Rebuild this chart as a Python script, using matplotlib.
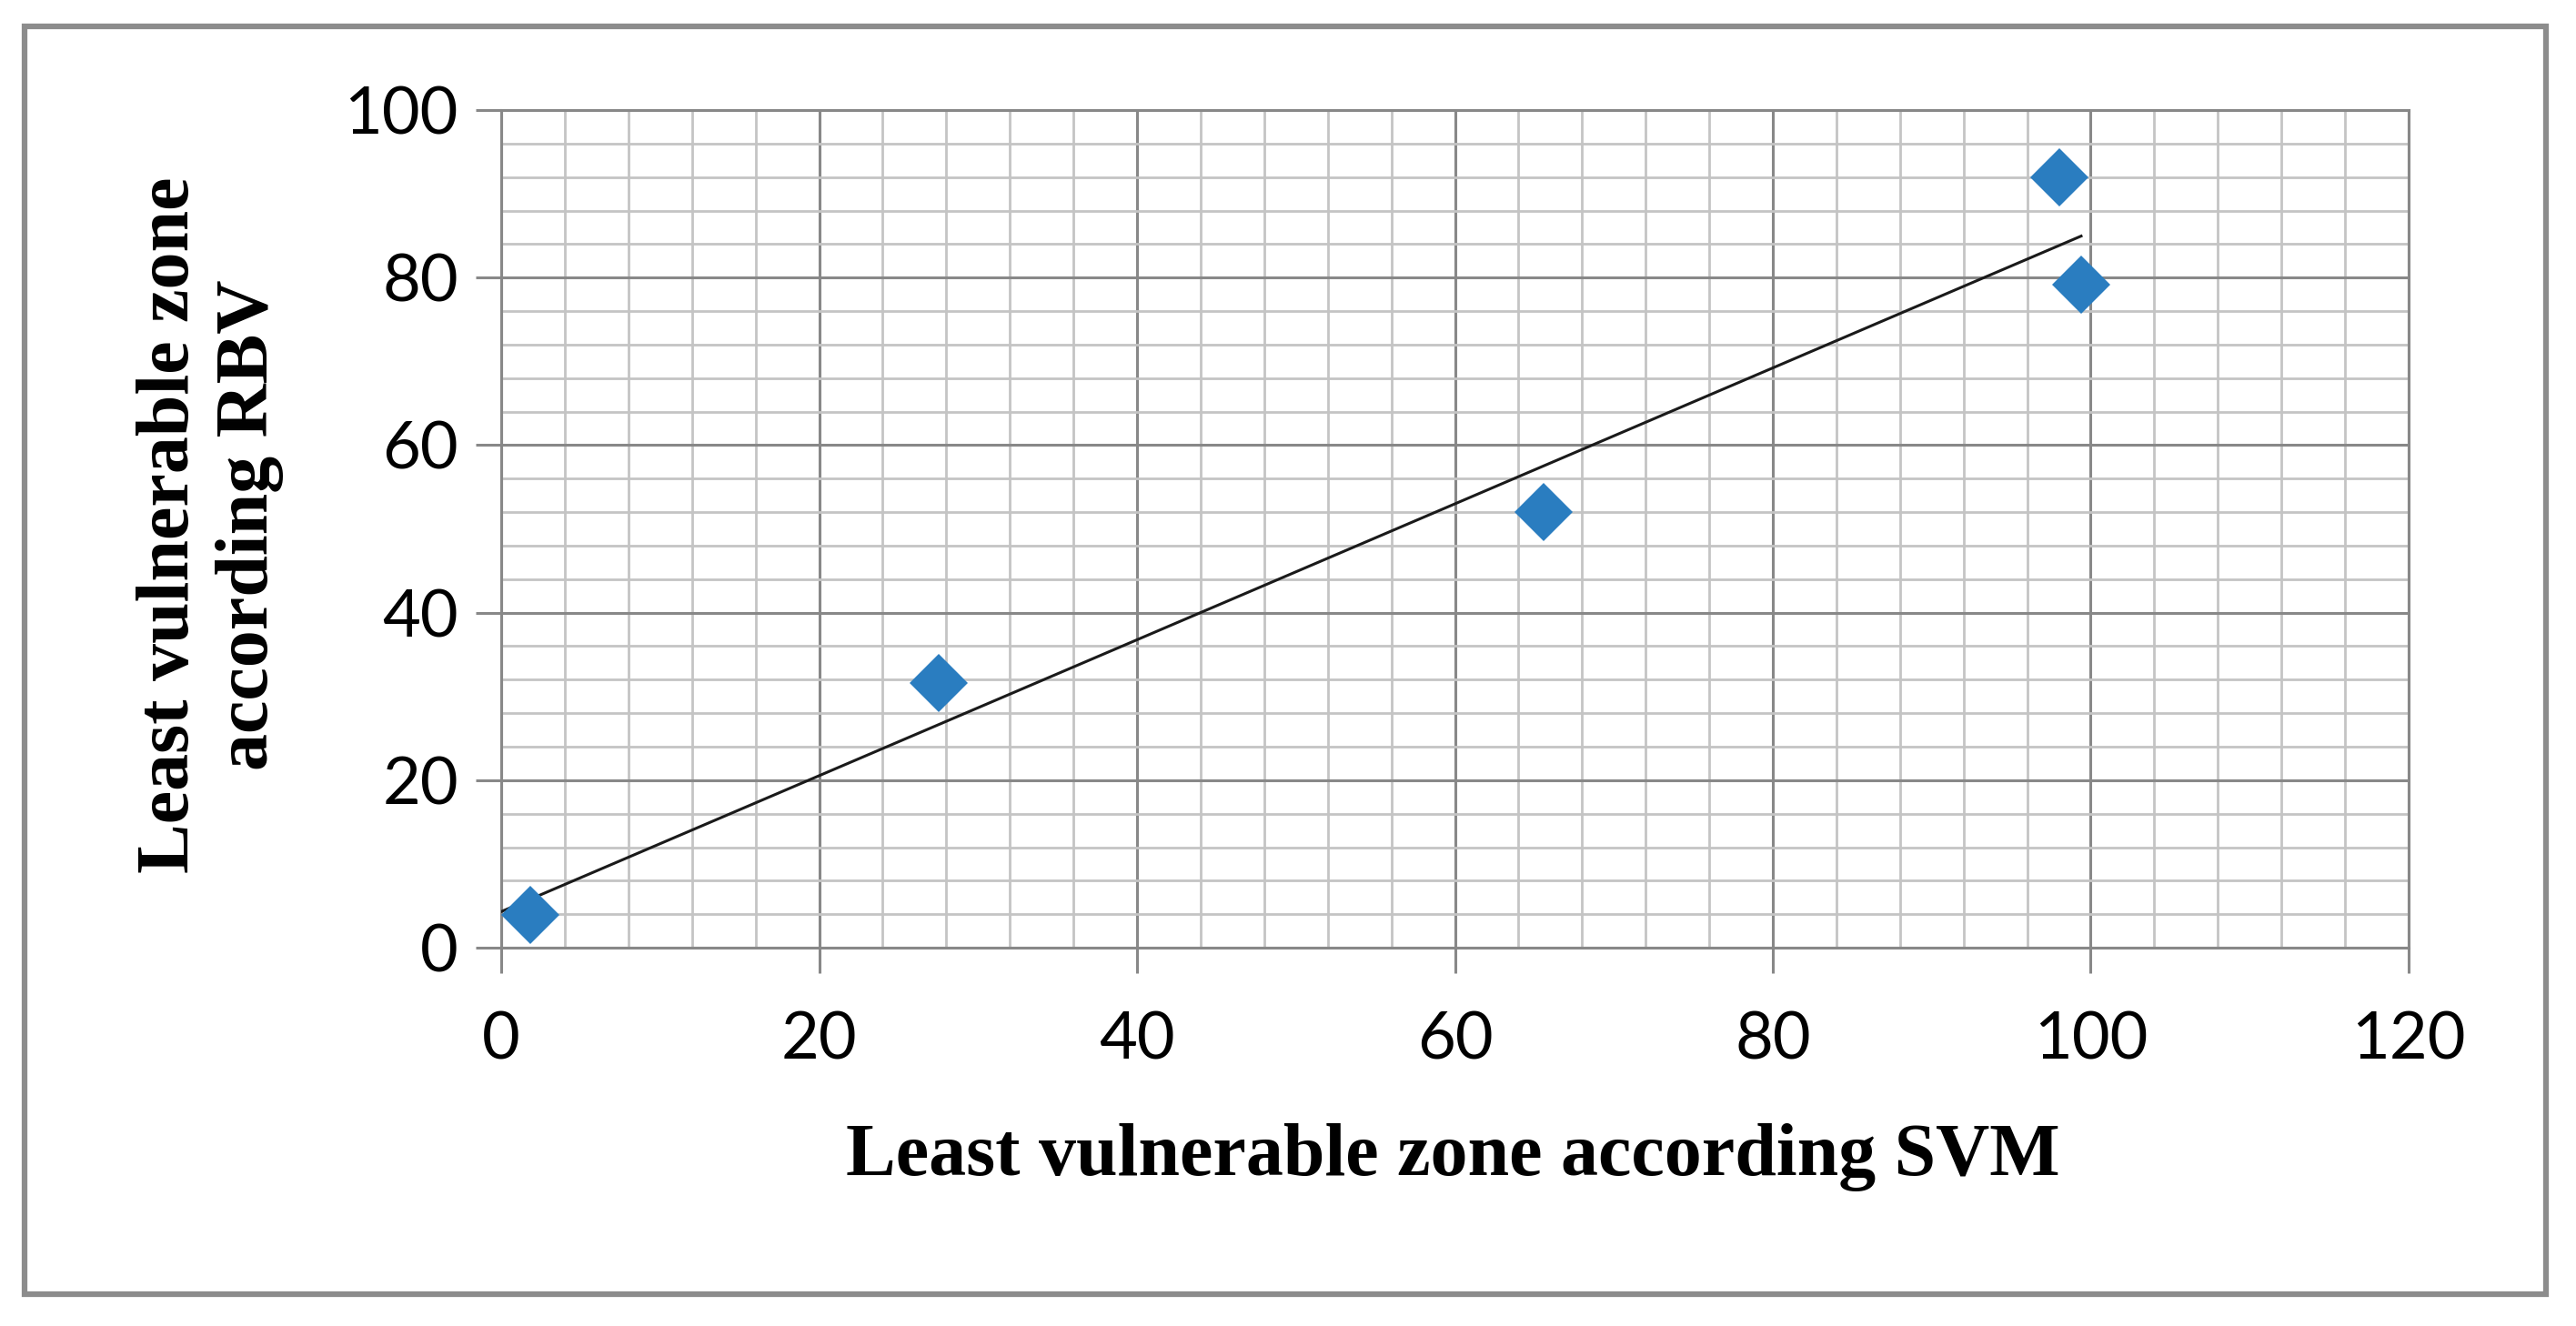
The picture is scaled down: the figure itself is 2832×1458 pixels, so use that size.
"""Scatter with linear trendline: least vulnerable zone, SVM vs RBV."""

import numpy as np
import matplotlib
matplotlib.use("Agg")
import matplotlib.pyplot as plt
from matplotlib.patches import Rectangle
from matplotlib.ticker import MultipleLocator

# Data
svm = [1.8, 27.5, 65.6, 98.0, 99.4]
rbv = [3.9, 31.6, 52.0, 92.0, 79.2]

x_ticks = [0, 20, 40, 60, 80, 100, 120]
y_ticks = [0, 20, 40, 60, 80, 100]

MARKER_COLOR = "#2a7dc0"
MAJOR_GRID = "#888888"
MINOR_GRID = "#c4c4c4"

fig = plt.figure(figsize=(28.32, 14.58), dpi=100)
ax = fig.add_axes([0.1946, 0.2853, 0.7404, 0.6317])

ax.set_xlim(0, 120)
ax.set_ylim(0, 100)
ax.set_xticks(x_ticks)
ax.set_yticks(y_ticks)
ax.xaxis.set_minor_locator(MultipleLocator(4))
ax.yaxis.set_minor_locator(MultipleLocator(4))

ax.grid(which="minor", color=MINOR_GRID, linewidth=2.0, zorder=0)
ax.grid(which="major", color=MAJOR_GRID, linewidth=2.2, zorder=0)
ax.set_axisbelow(True)
for side in ["left", "bottom", "top", "right"]:
    ax.spines[side].set_color(MAJOR_GRID)
    ax.spines[side].set_linewidth(2.2)

ax.tick_params(which="major", direction="out", length=20, width=2.2,
               color=MAJOR_GRID, labelsize=52)
ax.tick_params(axis="x", pad=30)
ax.tick_params(axis="y", pad=14)
ax.tick_params(which="minor", length=0)
for lab in ax.get_xticklabels() + ax.get_yticklabels():
    lab.set_fontfamily("Lato")

# Linear trendline
slope, intercept = np.polyfit(svm, rbv, 1)
xs = np.array([0, max(svm)])
ax.plot(xs, slope * xs + intercept, color="#1a1a1a", linewidth=2.2, zorder=3)

ax.plot(svm, rbv, linestyle="none", marker="D", markersize=33,
        color=MARKER_COLOR, markeredgewidth=0, zorder=4, clip_on=False)

fig.text(0.564, 0.127, "Least vulnerable zone according SVM",
         ha="center", va="center", fontsize=59, fontweight="bold",
         family="Liberation Serif")
fig.text(0.0816, 0.604, "Least vulnerable zone\naccording RBV",
         ha="center", va="center", rotation=90, fontsize=59,
         fontweight="bold", family="Liberation Serif", linespacing=1.2)

# Chart border
fig.patches.append(Rectangle((0.0095, 0.024), 0.979, 0.956,
                             transform=fig.transFigure, fill=False,
                             edgecolor="#8c8c8c", linewidth=4.5))

fig.savefig("out.png", dpi=100)
